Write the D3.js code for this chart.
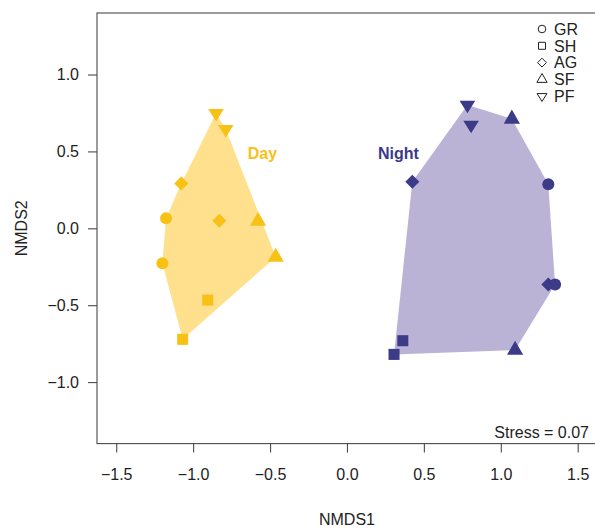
<!DOCTYPE html>
<html>
<head>
<meta charset="utf-8">
<script src="https://cdn.jsdelivr.net/npm/d3@7"></script>
<style>
  html, body { margin: 0; padding: 0; background: #fff; }
  svg { display: block; font-family: "Liberation Sans", Arial, Helvetica, sans-serif; }
</style>
</head>
<body>
<svg id="chart" width="595" height="530"></svg>
<script>
// NMDS ordination scores, day vs night samples
const siteCodes = ["GR", "SH", "AG", "SF", "PF"];

const daySite  = ["PF", "PF", "AG", "GR", "AG", "SF", "GR", "SF", "SH", "SH"];
const dayNMDS1 = [-0.851, -0.788, -1.077, -1.176, -0.830, -0.578, -1.200, -0.463, -0.905, -1.068];
const dayNMDS2 = [ 0.748,  0.644,  0.292,  0.065,  0.049,  0.047, -0.228, -0.187, -0.467, -0.722];

const nightSite  = ["PF", "PF", "SF", "AG", "GR", "AG", "GR", "SH", "SH", "SF"];
const nightNMDS1 = [0.783, 0.807, 1.072, 0.425, 1.309, 1.309, 1.353, 0.363, 0.306, 1.093];
const nightNMDS2 = [0.802, 0.672, 0.711, 0.303, 0.286, -0.365, -0.366, -0.731, -0.820, -0.792];

const xTicks = [-1.5, -1.0, -0.5, 0.0, 0.5, 1.0, 1.5];
const yTicks = [-1.0, -0.5, 0.0, 0.5, 1.0];
const stressValue = 0.07;

const groups = [
  { name: "Day",   site: daySite,   x: dayNMDS1,   y: dayNMDS2,   point: "#F7C116", hull: "#FEE08D", labelAt: [-0.55, 0.49] },
  { name: "Night", site: nightSite, x: nightNMDS1, y: nightNMDS2, point: "#3B3B88", hull: "#BBB3D6", labelAt: [0.335, 0.49] }
];

const svg = d3.select("#chart");
const frame = { left: 97, top: 13, right: 600, bottom: 443.6 };

const x = d3.scaleLinear().domain([-1.625, 1.645]).range([frame.left, frame.right]);
const y = d3.scaleLinear().domain([-1.4, 1.4]).range([frame.bottom, frame.top]);

// symbol shapes keyed by site code; r is a nominal half-size in px
const shapes = {
  GR: {
    draw(ctx, r) { ctx.moveTo(r, 0); ctx.arc(0, 0, r, 0, 2 * Math.PI); ctx.closePath(); }
  },
  SH: {
    draw(ctx, r) { const h = r * 0.92; ctx.rect(-h, -h, 2 * h, 2 * h); }
  },
  AG: {
    draw(ctx, r) { const h = r * 1.17; ctx.moveTo(0, -h); ctx.lineTo(h, 0); ctx.lineTo(0, h); ctx.lineTo(-h, 0); ctx.closePath(); }
  },
  SF: {
    draw(ctx, r) { const w = r * 1.35, ht = w * 1.732; ctx.moveTo(0, -ht * 2 / 3); ctx.lineTo(w, ht / 3); ctx.lineTo(-w, ht / 3); ctx.closePath(); }
  },
  PF: {
    draw(ctx, r) { const w = r * 1.3, ht = w * 1.6; ctx.moveTo(0, ht * 2 / 3); ctx.lineTo(w, -ht / 3); ctx.lineTo(-w, -ht / 3); ctx.closePath(); }
  }
};
// d3.symbol passes "size"; treat it directly as the half-size
function symbolPath(code, r) {
  return d3.symbol().type(shapes[code]).size(r)();
}

// convex hulls
groups.forEach(g => {
  const pts = g.x.map((v, i) => [x(v), y(g.y[i])]);
  const hull = d3.polygonHull(pts);
  svg.append("path")
    .attr("d", "M" + hull.map(p => p.join(",")).join("L") + "Z")
    .attr("fill", g.hull)
    .attr("stroke", "none");
});

// points
groups.forEach(g => {
  svg.append("g").selectAll("path")
    .data(g.x.map((v, i) => ({ nx: v, ny: g.y[i], site: g.site[i] })))
    .join("path")
    .attr("transform", d => `translate(${x(d.nx)},${y(d.ny)})`)
    .attr("d", d => symbolPath(d.site, 6))
    .attr("fill", g.point);
});

// group labels
groups.forEach(g => {
  svg.append("text")
    .attr("x", x(g.labelAt[0]))
    .attr("y", y(g.labelAt[1]))
    .attr("dy", "0.35em")
    .attr("text-anchor", "middle")
    .attr("font-size", 16)
    .attr("font-weight", "bold")
    .attr("fill", g.point)
    .text(g.name);
});

// frame
const axisColor = "#4a4a4a";
svg.append("rect")
  .attr("x", frame.left).attr("y", frame.top)
  .attr("width", frame.right - frame.left).attr("height", frame.bottom - frame.top)
  .attr("fill", "none").attr("stroke", axisColor).attr("stroke-width", 1.1);

// axes
const fmt = d3.format(".1f");
const minusFmt = v => fmt(v).replace("-", "\u2212");

const xAxis = svg.append("g")
  .attr("transform", `translate(0,${frame.bottom})`)
  .call(d3.axisBottom(x).tickValues(xTicks).tickFormat(minusFmt).tickSize(9).tickPadding(16));
const yAxis = svg.append("g")
  .attr("transform", `translate(${frame.left},0)`)
  .call(d3.axisLeft(y).tickValues(yTicks).tickFormat(minusFmt).tickSize(9).tickPadding(9));

[xAxis, yAxis].forEach(a => {
  a.select(".domain").remove();
  a.selectAll(".tick line").attr("stroke", axisColor).attr("stroke-width", 1.1);
  a.selectAll(".tick text").attr("font-size", 16).attr("fill", "#222")
    .attr("font-family", "'Liberation Sans', Arial, Helvetica, sans-serif");
});

// axis titles
svg.append("text")
  .attr("x", x(0)).attr("y", 525)
  .attr("text-anchor", "middle").attr("font-size", 16).attr("fill", "#222")
  .text("NMDS1");
svg.append("text")
  .attr("transform", `translate(27,${y(0)}) rotate(-90)`)
  .attr("text-anchor", "middle").attr("font-size", 16).attr("fill", "#222")
  .text("NMDS2");

// stress annotation
svg.append("text")
  .attr("x", 589).attr("y", 438)
  .attr("text-anchor", "end").attr("font-size", 16).attr("fill", "#222")
  .text(`Stress = ${stressValue.toFixed(2)}`);

// legend (open symbols)
const legend = svg.append("g");
siteCodes.forEach((code, i) => {
  const ly = 29 + i * 16.8;
  legend.append("path")
    .attr("transform", `translate(542,${ly})`)
    .attr("d", symbolPath(code, 3.8))
    .attr("fill", "none").attr("stroke", "#222").attr("stroke-width", 1);
  legend.append("text")
    .attr("x", 554).attr("y", ly).attr("dy", "0.36em")
    .attr("font-size", 16).attr("fill", "#222")
    .text(code);
});
</script>
</body>
</html>
